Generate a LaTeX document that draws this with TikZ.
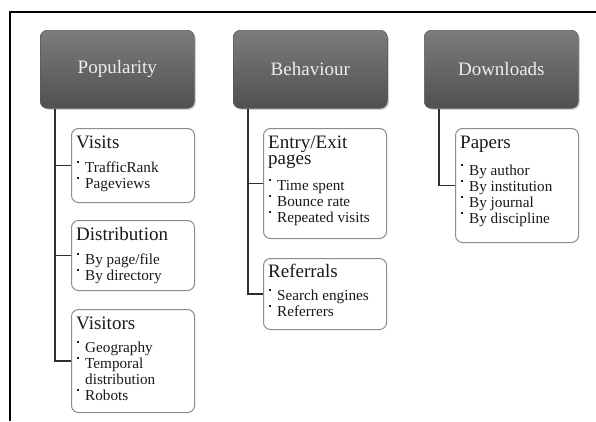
\documentclass[tikz,border=0pt]{standalone}
\usepackage{fontspec}
\setmainfont{Liberation Serif}
\usetikzlibrary{shadows}
\definecolor{hdtop}{HTML}{7C7C7C}
\definecolor{hdbot}{HTML}{505050}
\definecolor{hdtext}{HTML}{EEEEEE}
\definecolor{subline}{HTML}{8C8C8C}
\definecolor{connc}{HTML}{2E2E2E}
\newcommand\bul{\makebox[8pt][l]{\raisebox{0.62em}{\rule{1.4pt}{1.4pt}}}}
\tikzset{
  header/.style={rounded corners=7pt, top color=hdtop, bottom color=hdbot,
    draw=black!65, line width=0.6pt, minimum width=154pt, minimum height=78pt,
    anchor=north west, inner sep=0pt, text=hdtext,
    font=\fontsize{19}{20}\selectfont,
    drop shadow={shadow xshift=1.5pt, shadow yshift=-1.5pt, opacity=0.35}},
  subbox/.style={rounded corners=7pt, draw=subline, line width=1pt, fill=white,
    minimum width=123pt, anchor=north west, inner sep=0pt},
  ttl/.style={anchor=base west, inner sep=0pt, align=left,
    font=\fontsize{19}{16}\selectfont, text=black!90},
  items/.style={anchor=base west, inner sep=0pt, align=left,
    font=\fontsize{15.2}{16}\selectfont, text=black!90},
  conn/.style={draw=connc, line width=1.8pt},
  frame/.style={draw=black, line width=1.6pt}
}
\begin{document}
\begin{tikzpicture}[x=1pt,y=-1pt]
\useasboundingbox (0,0) rectangle (596,421);
% frame
\coordinate (ftl) at (10,12);
\coordinate (ftr) at (596,12);
\coordinate (fbl) at (10,421);
\draw[frame] (ftr) -- (ftl) -- (fbl);

% headers
\node[header] (pop) at (40,30) {Popularity};
\node[header] (beh) at (233,30) {Behaviour};
\node[header] (dow) at (424,30) {Downloads};

% Popularity column (items: anchor = baseline of last line)
\node[subbox, minimum height=74pt] (visits) at (71,128) {};
\node[ttl] (visitsT) at ([xshift=5pt,yshift=-20pt]visits.north west) {Visits};
\node[items] (visitsI) at ([xshift=1pt,yshift=-40pt]visitsT.base west) {\bul TrafficRank\\\bul Pageviews};

\node[subbox, minimum height=70pt] (distr) at (71,220) {};
\node[ttl] (distrT) at ([xshift=5pt,yshift=-20pt]distr.north west) {Distribution};
\node[items] (distrI) at ([xshift=1pt,yshift=-40pt]distrT.base west) {\bul By page/file\\\bul By directory};

\node[subbox, minimum height=103pt] (visitors) at (71,309) {};
\node[ttl] (visitorsT) at ([xshift=5pt,yshift=-20pt]visitors.north west) {Visitors};
\node[items] (visitorsI) at ([xshift=1pt,yshift=-71pt]visitorsT.base west) {\bul Geography\\\bul Temporal\\\hspace*{8pt}distribution\\\bul Robots};

% Behaviour column
\node[subbox, minimum height=110pt] (entry) at (263,128) {};
\node[ttl] (entryT) at ([xshift=5pt,yshift=-36pt]entry.north west) {Entry/Exit\\pages};
\node[items] (entryI) at ([xshift=1pt,yshift=-58pt]entryT.base west) {\bul Time spent\\\bul Bounce rate\\\bul Repeated visits};

\node[subbox, minimum height=71pt] (refer) at (263,258) {};
\node[ttl] (referT) at ([xshift=5pt,yshift=-19pt]refer.north west) {Referrals};
\node[items] (referI) at ([xshift=1pt,yshift=-39pt]referT.base west) {\bul Search engines\\\bul Referrers};

% Downloads column
\node[subbox, minimum height=114pt] (papers) at (455,128) {};
\node[ttl] (papersT) at ([xshift=5pt,yshift=-20pt]papers.north west) {Papers};
\node[items] (papersI) at ([xshift=1pt,yshift=-75pt]papersT.base west) {\bul By author\\\bul By institution\\\bul By journal\\\bul By discipline};

% connectors
\coordinate (pa) at ([xshift=-16pt]visits.west |- pop.south);
\coordinate (ba) at ([xshift=-15pt]entry.west |- beh.south);
\coordinate (da) at ([xshift=-16pt]papers.west |- dow.south);
\draw[conn] (pa) |- (visitors.west);
\draw[conn] (pa |- visits.west) -- (visits.west);
\draw[conn] (pa |- distr.west) -- (distr.west);
\draw[conn] (ba) |- (refer.west);
\draw[conn] (ba |- entry.west) -- (entry.west);
\draw[conn] (da) |- (papers.west);
\end{tikzpicture}
\end{document}
